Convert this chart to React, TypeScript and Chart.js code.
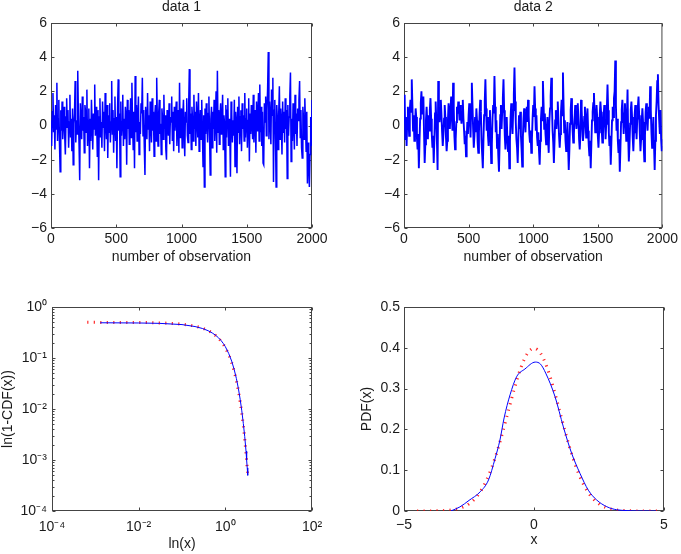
import { useEffect, useRef } from 'react';
import { Chart, registerables } from 'chart.js';

Chart.register(...registerables);

// ---------------- data ----------------
const OBS_MAX = 2000;

const DATA1 = [
  0.3, -1.2, 0.8, 1.9, -0.4, 0.6, -1.4, 1.2, -0.2, 2.5, -0.9, 0.4, 1.5, -1.1, -2.7, 0.9, -0.3, 1.4, -0.8, 0.2,
  1.1, -0.6, -1.7, 0.5, 1.6, -0.1, 0.9, -1.3, 0.2, 1.8, -0.7, 0.4, -1.5, 1.0, -2.3, 0.1, 0.7, 2.6, -1.0, 0.3,
  -0.5, 3.2, 0.6, -1.1, -3.2, 1.3, 0.2, -0.8, 1.7, -0.3, 0.5, -1.6, 1.2, 0.8, -0.4, 2.1, -1.2, 0.3, 1.0, -2.5,
  0.4, -0.9, 1.5, 0.1, -1.4, 0.7, -0.2, 2.4, -0.6, 1.1, 0.3, -1.8, 0.9, -3.2, 0.5, 1.6, -0.7, 0.2, -1.3, 1.4,
  -0.1, 0.8, -1.5, 1.9, 0.3, -0.8, 1.2, -1.9, 0.6, -0.4, 1.3, -1.0, 0.2, 2.6, -0.5, 0.9, -1.6, 0.4, 1.7, -0.9,
  0.5, -2.5, 1.0, 2.7, -0.3, 0.7, -3.0, 1.4, -0.6, 0.2, 1.8, -1.2, 0.4, -0.8, 1.1, 0.6, -2.3, 1.5, -0.2, 0.9,
  -1.1, 0.3, 1.6, -0.7, 2.5, 0.1, -1.4, 0.8, -2.5, 2.9, -0.4, 1.2, -0.9, 0.5, 1.7, -1.7, 0.2, -0.5, 1.3, 0.7,
  2.8, -0.6, 0.9, -1.3, -2.9, 1.1, 0.4, -0.8, 1.9, -0.2, 0.6, -1.5, 1.4, 0.2, -1.0, 1.6, -0.3, 0.8, -1.8, 0.5,
  1.2, -0.9, 2.8, 0.3, -1.2, 0.7, 1.5, -0.5, 0.1, -1.7, 1.0, 0.4, -0.8, 1.8, -0.2, 0.6, -1.4, -2.0, 0.9, 0.3,
  -0.6, 1.3, -1.1, 0.5, 0.2, 1.7, -0.9, 0.8, -1.5, 1.1, -0.3, 0.6, 1.4, -1.2, 0.0, 0.9, -1.6, 2.5, -0.7, 0.4,
  1.0, -1.3, 0.6, 1.5, -0.4, -1.8, 0.8, 0.2, 1.6, -0.6, -1.0, 1.2, 3.3, -0.5, 0.7, -1.4, 1.1, 0.3, -0.9, 1.8,
  -0.2, 0.8, -1.2, 1.4, 0.4, -0.7, 1.9, -1.5, 0.1, 0.9, -0.8, 1.5, -0.3, -2.4, 0.6, -3.6, 1.0, -0.5, 1.3, 0.2,
  -1.0, 0.7, 1.7, -0.6, -2.9, 0.4, 1.1, -1.3, 0.8, -0.2, 1.5, -0.9, 0.3, 2.0, -1.6, 3.2, -0.4, 0.9, -1.1, 0.5,
  1.3, -0.5, 0.2, 1.8, -1.4, 0.6, 0.1, -3.0, 1.2, -0.7, 0.9, 1.6, -1.2, 0.4, -0.3, -3.0, 1.4, 0.7, -1.0, 0.3,
  -0.6, 1.5, -2.4, 0.8, 0.2, -2.8, 1.1, -0.4, 1.7, -1.1, 0.5, 0.9, -1.5, 1.3, -0.2, 0.6, -0.9, 1.9, -0.7, 0.4,
  1.0, -1.3, 0.3, 1.6, -2.1, 0.7, -0.5, 1.2, 0.1, -0.8, 1.8, -1.0, 0.4, 0.9, -1.6, 1.4, -0.3, 0.6, 1.9, -0.9,
  2.4, -0.4, 1.1, -1.2, 0.8, -2.2, -2.3, 1.3, 0.2, 1.7, -0.6, 0.9, 2.2, 4.3, -0.8, 1.4, 0.5, -1.1, 2.1, 0.6,
  2.8, -3.3, 0.9, 1.5, -0.5, -3.6, 1.2, 0.3, -1.4, 0.7, 2.3, -0.8, 1.0, 0.2, -1.7, 1.4, -0.4, 0.8, -1.0, 1.6,
  -0.2, 0.9, -3.1, 1.2, -0.6, 0.5, 1.7, 3.1, -2.1, 0.4, -0.9, 1.3, 0.1, -1.4, 1.8, -0.5, 0.7, -1.2, 1.0, 0.3,
  1.5, 2.6, -0.7, 0.9, -1.3, -1.9, 1.1, 0.4, -0.8, 1.6, 0.2, -1.5, 0.8, -3.4, -1.0, -2.2, -3.6, -1.7, 0.5, -1.2,
  1.5,
];

const DATA2 = [
  0.2, 1.8, -0.8, 0.5, -1.2, 0.3, 1.1, 0.4, -0.6, 0.9, 1.5, 0.8, 2.7, 1.2, -0.3, 0.6, -0.9, -0.2, 1.0, 0.5,
  -0.7, -1.4, -0.5, -2.5, -0.9, 0.4, 1.3, 2.0, 0.7, 1.2, 1.7, -0.4, -2.2, -1.1, 0.3, 1.1, 0.2, -0.8, 0.6, -0.3,
  0.9, 1.6, 0.4, -0.5, -1.3, -0.6, -2.2, -0.8, 0.7, 1.4, 0.3, -1.0, -2.6, 2.6, 1.1, 0.2, 0.8, 1.5, 0.6, -0.4,
  -1.2, -0.5, 0.4, 1.2, 0.5, -0.7, -1.5, -0.9, 0.3, 1.3, 0.7, -0.2, 0.9, 1.7, 0.6, -0.3, 2.5, 1.0, -0.6, -1.4,
  -0.8, 0.2, 1.1, 0.7, 1.4, 0.9, 0.3, 1.2, 0.6, 0.1, 0.8, 1.5, 0.4, -0.3, -1.1, -0.6, -1.8, -0.9, 0.2, -0.5,
  0.6, 1.3, 0.4, -0.7, 1.1, 2.5, 1.2, -0.2, -1.3, -0.6, 0.5, -0.4, 1.0, 0.3, -1.0, -1.6, -0.4, 0.7, 1.5, 0.8,
  -0.9, -1.7, -2.5, -0.8, 0.6, 1.4, 2.7, 1.0, -0.3, 0.5, -0.6, -1.2, 0.2, 0.9, -0.7, -2.2, -1.1, 0.4, 1.2, 0.7,
  2.9, 1.1, -0.4, 0.3, -1.3, -0.5, -1.8, -2.7, -1.0, 0.6, 1.2, -0.2, 0.8, 1.6, 2.7, 0.9, -0.6, -1.4, -0.3, 0.5,
  -0.8, -1.5, -0.6, -2.5, -0.9, 0.5, 1.3, 0.4, -0.5, 0.9, 1.8, 3.4, 1.4, 0.2, -0.8, -1.3, -2.2, -0.7, 0.6, -0.2,
  0.8, -0.6, -1.4, -2.4, -0.7, 0.4, 1.0, 0.3, -0.4, 0.7, 1.1, 0.2, 1.5, 0.6, -0.5, -1.0, -0.3, -1.6, -0.8, 0.4,
  1.2, 0.5, 2.3, 1.0, -0.3, 0.6, -0.7, -1.2, -0.4, -1.5, -2.3, -0.9, 0.4, 1.1, 0.3, 2.6, 1.3, -0.2, 0.7, -0.5,
  -1.1, -0.4, 0.5, -0.8, -1.6, 0.2, 1.0, 1.7, 2.8, 1.1, -0.3, -1.0, -2.2, -0.9, 0.3, 0.9, -0.2, 0.6, 1.4, 0.4,
  -0.6, -1.3, -0.5, 0.8, 1.5, 0.6, 3.1, 1.2, -0.4, 0.3, -0.9, -1.5, -0.7, 0.2, -1.2, -2.6, -1.4, 0.1, 0.9, 1.6,
  0.7, -0.3, -1.0, -0.5, 0.4, 1.2, 0.6, -0.2, 0.8, 1.3, 0.3, -0.8, -1.4, -0.6, 1.5, 0.9, -0.1, -0.9, -0.4, 0.5,
  1.1, 0.2, -0.7, 0.4, 1.0, -0.3, -1.2, -1.8, -0.9, -2.5, -1.1, 0.3, 0.8, 1.3, 1.9, 0.7, -0.4, 0.2, 1.2, 0.5,
  -0.6, -1.3, -0.4, 0.6, 1.4, 0.8, -0.2, -1.0, -0.5, 0.5, 1.2, 0.4, -0.8, 0.1, 1.0, 2.4, 0.9, -0.4, -1.2, -0.6,
  -2.3, -1.0, 0.3, 1.1, 0.5, 1.6, 2.0, 3.8, 1.2, -0.3, 0.4, -0.9, -1.6, -0.8, -2.7, -1.3, 0.2, 0.9, 1.5, 0.6,
  -0.5, 0.7, 1.3, 0.2, -0.9, 0.5, 2.1, -0.6, -2.1, -1.2, 0.1, 0.9, 1.4, 0.5, -0.7, -1.5, -0.4, 0.6, 1.2, 0.3,
  -0.8, 0.4, 1.1, 1.7, 0.6, -0.5, -1.5, -0.8, 0.3, 1.0, 0.2, -1.1, -2.1, -0.6, 0.8, 1.3, 0.5, -0.3, 0.7, 1.1,
  0.4, 2.3, 0.9, -0.4, -1.3, -0.6, 0.5, -1.1, -2.6, -0.9, 0.6, 1.4, 2.6, 3.0, 1.2, 0.3, -0.5, 0.9, -0.8, -1.5,
  -1.2,
];

// survival function 1-CDF (log-log)
const CDF_EMP_X = [0.0013, 0.003, 0.01, 0.03, 0.1, 0.2, 0.3, 0.4, 0.5, 0.6, 0.7, 0.8, 0.9, 1.0, 1.2, 1.4, 1.6, 1.8, 2.0, 2.2, 2.4, 2.6, 2.8, 3.0, 3.1, 3.2, 3.29];
const CDF_EMP_Y = [0.4905, 0.489, 0.486, 0.478, 0.452, 0.414, 0.378, 0.343, 0.309, 0.278, 0.248, 0.219, 0.192, 0.167, 0.122, 0.087, 0.0595, 0.0395, 0.0252, 0.0155, 0.0092, 0.0052, 0.0029, 0.0015, 0.001, 0.0007, 0.0005];
const CDF_NORM_X = [0.00065, 0.001, 0.002, 0.005, 0.01, 0.02, 0.05, 0.1, 0.15, 0.2, 0.3, 0.4, 0.5, 0.6, 0.7, 0.8, 0.9, 1.0, 1.2, 1.4, 1.6, 1.8, 2.0, 2.2, 2.4, 2.6, 2.8, 3.0, 3.2, 3.29];
const CDF_NORM_Y = [0.4997, 0.4996, 0.4992, 0.498, 0.496, 0.492, 0.48, 0.46, 0.44, 0.421, 0.382, 0.345, 0.309, 0.274, 0.242, 0.212, 0.184, 0.159, 0.115, 0.0808, 0.0548, 0.0359, 0.0228, 0.0139, 0.0082, 0.0047, 0.0026, 0.00135, 0.00069, 0.0005];

// density
const PDF_EMP_X = [-3.2, -2.85, -2.5, -2.07, -1.75, -1.5, -1.31, -1.15, -0.92, -0.67, -0.35, 0.05, 0.25, 0.45, 0.81, 1.13, 1.45, 1.77, 2.09, 2.41, 2.8, 3.18, 3.6, 4.0, 4.7];
const PDF_EMP_Y = [0, 0.01, 0.026, 0.047, 0.076, 0.128, 0.174, 0.228, 0.285, 0.329, 0.348, 0.365, 0.36, 0.338, 0.28, 0.206, 0.141, 0.092, 0.051, 0.027, 0.0105, 0.003, 0.001, 0, 0];
const PDF_NORM_X = [-4.5, -4.0, -3.5, -3.25, -3.0, -2.75, -2.5, -2.25, -2.0, -1.75, -1.5, -1.25, -1.0, -0.75, -0.5, -0.25, 0, 0.25, 0.5, 0.75, 1.0, 1.25, 1.5, 1.75, 2.0, 2.25, 2.5, 2.75, 3.0, 3.25, 3.5, 4.0, 4.5, 4.9];
const PDF_NORM_Y = [0.0, 0.0001, 0.0009, 0.002, 0.0044, 0.0091, 0.0175, 0.0317, 0.054, 0.0863, 0.1295, 0.1826, 0.242, 0.3011, 0.3521, 0.3867, 0.3989, 0.3867, 0.3521, 0.3011, 0.242, 0.1826, 0.1295, 0.0863, 0.054, 0.0317, 0.0175, 0.0091, 0.0044, 0.002, 0.0009, 0.0001, 0.0, 0.0];

const LOG_X_TICKS = [1e-4, 1e-2, 1, 1e2];
const LOG_Y_TICKS = [1e-4, 1e-3, 1e-2, 1e-1, 1];

// ---------------- style helpers ----------------
const FONT = "'Liberation Sans', Arial, Helvetica, sans-serif";
const TXT = '#1a1a1a';
const tickFont = { family: FONT, size: 14 };
const BLUE = 'rgb(0,0,255)';
const RED = 'rgba(255,0,0,0.85)';

const fmt = (v: number) => String(Math.round(v * 10) / 10).replace('-', '\u2212');
const SUP: Record<string, string> = { '-': '\u207B', '0': '\u2070', '1': '\u00B9', '2': '\u00B2', '3': '\u00B3', '4': '\u2074', '5': '\u2075', '6': '\u2076', '7': '\u2077', '8': '\u2078', '9': '\u2079' };
const pow10Label = (v: number) => '10' + String(Math.round(Math.log10(v))).split('').map((c) => SUP[c]).join('');

const boxPlugin = {
  id: 'mbox',
  beforeDatasetsDraw(chart: any, _args: any, opts: any) {
    const { ctx, chartArea: a } = chart;
    const xs = chart.scales.x;
    const ys = chart.scales.y;
    ctx.save();
    ctx.strokeStyle = '#444';
    ctx.lineWidth = 1;
    const L = a.left + 0.5, R = a.right - 0.5, T = a.top + 0.5, B = a.bottom - 0.5;
    ctx.strokeRect(L, T, R - L, B - T);
    ctx.beginPath();
    const len = 3;
    for (const t of xs.ticks) {
      const p = Math.round(xs.getPixelForValue(t.value)) + 0.5;
      ctx.moveTo(p, B); ctx.lineTo(p, B - len);
      ctx.moveTo(p, T); ctx.lineTo(p, T + len);
    }
    for (const t of ys.ticks) {
      const p = Math.round(ys.getPixelForValue(t.value)) + 0.5;
      ctx.moveTo(L, p); ctx.lineTo(L + len, p);
      ctx.moveTo(R, p); ctx.lineTo(R - len, p);
    }
    if (opts && opts.minorY) {
      const lo = Math.round(Math.log10(ys.min));
      const hi = Math.round(Math.log10(ys.max));
      for (let d = lo; d < hi; d++) {
        for (let k = 2; k <= 9; k++) {
          const p = Math.round(ys.getPixelForValue(k * Math.pow(10, d))) + 0.5;
          ctx.moveTo(L, p); ctx.lineTo(L + 2, p);
          ctx.moveTo(R, p); ctx.lineTo(R - 2, p);
        }
      }
    }
    ctx.stroke();
    ctx.restore();
  },
};

const baseAxis = {
  grid: { display: false, drawTicks: false },
  border: { display: false },
};

function seriesConfig(title: string, values: number[], yWidth: number, padRight: number, lw: number) {
  const step = OBS_MAX / (values.length - 1);
  return {
    type: 'line',
    data: {
      datasets: [{
        data: values.map((v, i) => ({ x: i * step, y: v })),
        borderColor: BLUE,
        borderWidth: lw,
        pointRadius: 0,
        tension: 0,
      }],
    },
    options: {
      responsive: false,
      animation: false,
      events: [],
      layout: { padding: { left: 0, right: padRight, top: 0, bottom: 0 } },
      plugins: {
        legend: { display: false },
        tooltip: { enabled: false },
        title: {
          display: true, text: title, fullSize: false, color: TXT,
          font: { family: FONT, size: 14, weight: 'normal', lineHeight: 1 },
          padding: { top: 0, bottom: 9 },
        },
        mbox: {},
      },
      scales: {
        x: {
          ...baseAxis, type: 'linear', min: 0, max: OBS_MAX,
          ticks: { stepSize: 500, padding: 3, maxRotation: 0, autoSkip: false, font: tickFont, color: TXT, callback: (v: number) => fmt(v) },
          title: { display: true, text: 'number of observation', color: TXT, font: tickFont, padding: { top: 0, bottom: 14.8 } },
          afterFit: (s: any) => { s.height = 52; },
        },
        y: {
          ...baseAxis, type: 'linear', min: -6, max: 6,
          ticks: { stepSize: 2, padding: 4, autoSkip: false, font: tickFont, color: TXT, callback: (v: number) => fmt(v) },
          afterFit: (s: any) => { s.width = yWidth; },
        },
      },
    },
    plugins: [boxPlugin],
  };
}

function cdfConfig() {
  return {
    type: 'line',
    data: {
      datasets: [
        {
          data: CDF_EMP_X.map((x, i) => ({ x, y: CDF_EMP_Y[i] })),
          borderColor: BLUE, borderWidth: 1, pointRadius: 0, tension: 0,
        },
        {
          data: CDF_NORM_X.map((x, i) => ({ x, y: CDF_NORM_Y[i] })),
          borderColor: RED, borderWidth: 3, borderDash: [1.2, 5.3], borderCapStyle: 'butt',
          pointRadius: 0, cubicInterpolationMode: 'monotone',
        },
      ],
    },
    options: {
      responsive: false,
      animation: false,
      events: [],
      layout: { padding: { left: 0, right: 28, top: 27, bottom: 0 } },
      plugins: { legend: { display: false }, tooltip: { enabled: false }, mbox: { minorY: true } },
      scales: {
        x: {
          ...baseAxis, type: 'logarithmic', min: 1e-4, max: 1e2,
          afterBuildTicks: (s: any) => { s.ticks = LOG_X_TICKS.map((v) => ({ value: v })); },
          ticks: { padding: 8, maxRotation: 0, autoSkip: false, font: tickFont, color: TXT, callback: (v: number) => pow10Label(v) },
          title: { display: true, text: 'ln(x)', color: TXT, font: tickFont, padding: { top: 0, bottom: 1 } },
          afterFit: (s: any) => { s.height = 43; },
        },
        y: {
          ...baseAxis, type: 'logarithmic', min: 1e-4, max: 1,
          afterBuildTicks: (s: any) => { s.ticks = LOG_Y_TICKS.map((v) => ({ value: v })); },
          ticks: { padding: 5, autoSkip: false, font: tickFont, color: TXT, callback: (v: number) => pow10Label(v) },
          title: { display: true, text: 'ln(1-CDF(x))', color: TXT, font: tickFont, padding: { top: 0, bottom: 0 } },
          afterFit: (s: any) => { s.width = 52; },
        },
      },
    },
    plugins: [boxPlugin],
  };
}

function pdfConfig() {
  return {
    type: 'line',
    data: {
      datasets: [
        {
          data: PDF_EMP_X.map((x, i) => ({ x, y: PDF_EMP_Y[i] })),
          borderColor: BLUE, borderWidth: 1, pointRadius: 0, cubicInterpolationMode: 'monotone',
        },
        {
          data: PDF_NORM_X.map((x, i) => ({ x, y: PDF_NORM_Y[i] })),
          borderColor: RED, borderWidth: 3, borderDash: [1.2, 5.3], borderCapStyle: 'butt',
          pointRadius: 0, cubicInterpolationMode: 'monotone',
        },
      ],
    },
    options: {
      responsive: false,
      animation: false,
      events: [],
      layout: { padding: { left: 0, right: 17, top: 27, bottom: 0 } },
      plugins: { legend: { display: false }, tooltip: { enabled: false }, mbox: {} },
      scales: {
        x: {
          ...baseAxis, type: 'linear', min: -5, max: 5,
          ticks: { stepSize: 5, padding: 6, maxRotation: 0, autoSkip: false, font: tickFont, color: TXT, callback: (v: number) => fmt(v) },
          title: { display: true, text: 'x', color: TXT, font: tickFont, padding: { top: 0, bottom: 5 } },
          afterFit: (s: any) => { s.height = 43; },
        },
        y: {
          ...baseAxis, type: 'linear', min: 0, max: 0.5,
          ticks: { stepSize: 0.1, padding: 4, autoSkip: false, font: tickFont, color: TXT, callback: (v: number) => fmt(v) },
          title: { display: true, text: 'PDF(x)', color: TXT, font: tickFont, padding: { top: 18.3, bottom: 0 } },
          afterFit: (s: any) => { s.width = 64; },
        },
      },
    },
    plugins: [boxPlugin],
  };
}

function Panel(props: { left: number; top: number; width: number; height: number; make: () => any }) {
  const ref = useRef<HTMLCanvasElement | null>(null);
  useEffect(() => {
    if (!ref.current) return;
    const chart = new Chart(ref.current, props.make());
    return () => chart.destroy();
  }, []);
  return (
    <div style={{ position: 'absolute', left: props.left, top: props.top, width: props.width, height: props.height }}>
      <canvas ref={ref} width={props.width} height={props.height} style={{ display: 'block' }} />
    </div>
  );
}

export default function App() {
  return (
    <div style={{ position: 'absolute', left: 0, top: 0, width: 681, height: 554, background: '#fff' }}>
      <Panel left={0} top={0} width={340} height={280} make={() => seriesConfig('data 1', DATA1, 51, 28, 1.5)} />
      <Panel left={340} top={0} width={341} height={280} make={() => seriesConfig('data 2', DATA2, 64, 17, 1.9)} />
      <Panel left={0} top={280} width={340} height={274} make={cdfConfig} />
      <Panel left={340} top={280} width={341} height={274} make={pdfConfig} />
    </div>
  );
}
